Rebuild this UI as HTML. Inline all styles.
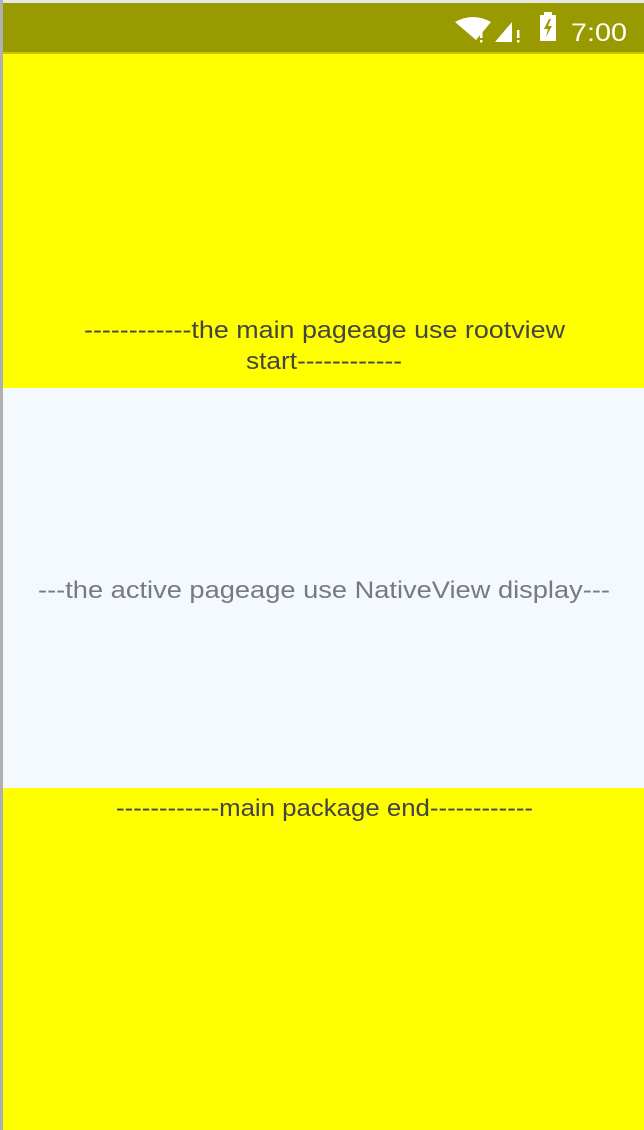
<!DOCTYPE html>
<html><head><style>
html,body{margin:0;padding:0;width:644px;height:1130px;overflow:hidden;background:#ffff00}
</style></head><body>
<svg width="644" height="1130" xmlns="http://www.w3.org/2000/svg" style="position:absolute;left:0;top:0">
<rect x="0" y="0" width="644" height="1130" fill="#ffff00"/>
<rect x="0" y="0" width="644" height="3" fill="#e8e8e8"/>
<rect x="3" y="3" width="641" height="50" fill="#999900"/>
<rect x="3" y="52" width="641" height="2" fill="#c8c800"/>
<rect x="3" y="388" width="641" height="400" fill="#f4f9fd"/>
<rect x="0" y="0" width="3" height="1130" fill="#b0b0b0"/>
<!-- status icons -->
<path d="M455 22 Q473 12 491 22 L476 40 Z" fill="#fff"/>
<rect x="480" y="30" width="2.5" height="8" fill="#fff"/><rect x="480" y="40" width="2.5" height="2.5" fill="#fff"/>
<path d="M495 42 L512 42 L512 22 Z" fill="#fff"/>
<rect x="517" y="30" width="2.5" height="8" fill="#fff"/><rect x="517" y="40" width="2.5" height="2.5" fill="#fff"/>
<rect x="540" y="15" width="16" height="26" fill="#fff"/>
<rect x="544" y="12" width="8" height="4" fill="#fff"/>
<path d="M549 19 L544 29 L548 29 L546 37 L552 26 L548 26 L551 19 Z" fill="#999900"/>
<text x="571" y="41" font-family="Liberation Sans, sans-serif" font-size="25" fill="#fff" textLength="56" lengthAdjust="spacingAndGlyphs">7:00</text>
<g font-family="Liberation Sans, sans-serif" font-size="24" fill="#444">
<text x="84" y="338" textLength="481" lengthAdjust="spacingAndGlyphs">------------the main pageage use rootview</text>
<text x="246" y="369" textLength="156" lengthAdjust="spacingAndGlyphs">start------------</text>
<text x="116" y="816" textLength="417" lengthAdjust="spacingAndGlyphs">------------main package end------------</text>
</g>
<text x="38" y="598" font-family="Liberation Sans, sans-serif" font-size="24" fill="#777a80" textLength="572" lengthAdjust="spacingAndGlyphs">---the active pageage use NativeView display---</text>
</svg>
</body></html>
